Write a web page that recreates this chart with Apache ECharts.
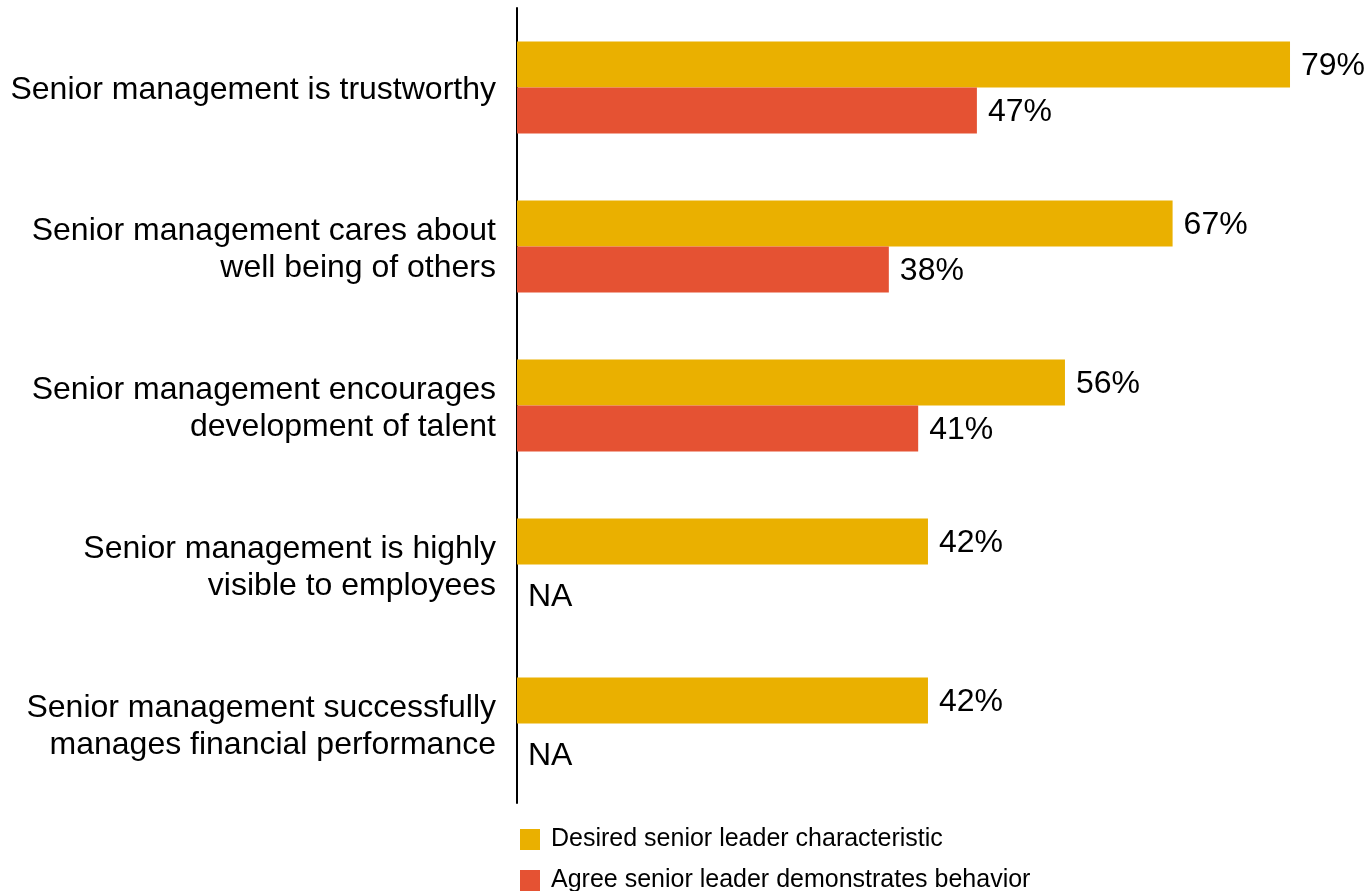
<!DOCTYPE html>
<html>
<head>
<meta charset="utf-8">
<script src="https://cdn.jsdelivr.net/npm/echarts@6/dist/echarts.min.js"></script>
<style>
  html, body { margin: 0; padding: 0; background: #fff; }
  #chart { width: 1370px; height: 891px; }
</style>
</head>
<body>
<div id="chart"></div>
<script>
// categories, top to bottom
const categories = [
  'Senior management is trustworthy',
  'Senior management cares about\nwell being of others',
  'Senior management encourages\ndevelopment of talent',
  'Senior management is highly\nvisible to employees',
  'Senior management successfully\nmanages financial performance'
]
const seriesNames = ['Desired senior leader characteristic', 'Agree senior leader demonstrates behavior']
const desired = [79, 67, 56, 42, 42]
// null = NA
const agree = [47, 38, 41, null, null]

const FONT = '"Liberation Sans", Arial, sans-serif'

const chart = echarts.init(document.getElementById('chart'))

const barLabel = {
  show: true,
  position: 'right',
  distance: 11,
  color: '#000',
  fontSize: 32,
  fontFamily: FONT,
  offset: [0, 2]
}

const legendBase = {
  orient: 'vertical',
  left: 515,
  icon: 'rect',
  itemWidth: 20,
  itemHeight: 21,
  textStyle: { color: '#000', fontSize: 25, fontFamily: FONT, padding: [0, 0, 0, 6] }
}

const catText = { color: '#000', fontSize: 32, lineHeight: 37, fontFamily: FONT }

chart.setOption({
  animation: false,
  grid: { left: 517, top: 8, width: 782.8, height: 795 },
  legend: [
    { ...legendBase, top: 822, data: [seriesNames[0]] },
    { ...legendBase, top: 863, data: [seriesNames[1]] }
  ],
  xAxis: {
    type: 'value',
    min: 0,
    max: 80,
    show: false
  },
  yAxis: {
    type: 'category',
    inverse: true,
    data: categories,
    axisLine: { show: true, lineStyle: { color: '#000', width: 2 } },
    axisTick: { show: false },
    axisLabel: {
      margin: 21,
      ...catText,
      align: 'right',
      // lines padded so the block sits a little below the band centre
      formatter: v => v.split('\n').map(s => `{c|${s}}`).join('\n'),
      rich: {
        c: { ...catText, padding: [6, 0, 0, 0] }
      }
    }
  },
  series: [
    {
      name: seriesNames[0],
      type: 'bar',
      data: desired,
      barWidth: 46,
      barGap: '0%',
      itemStyle: { color: '#EAB000' },
      label: { ...barLabel, formatter: p => p.value + '%' }
    },
    {
      name: seriesNames[1],
      type: 'bar',
      data: agree.map(v => v === null
        ? { value: 0, label: { offset: [0, 10] } }
        : v),
      barWidth: 46,
      barGap: '0%',
      itemStyle: { color: '#E55233' },
      label: {
        ...barLabel,
        formatter: p => agree[p.dataIndex] === null ? 'NA' : p.value + '%'
      }
    }
  ]
})
</script>
</body>
</html>
